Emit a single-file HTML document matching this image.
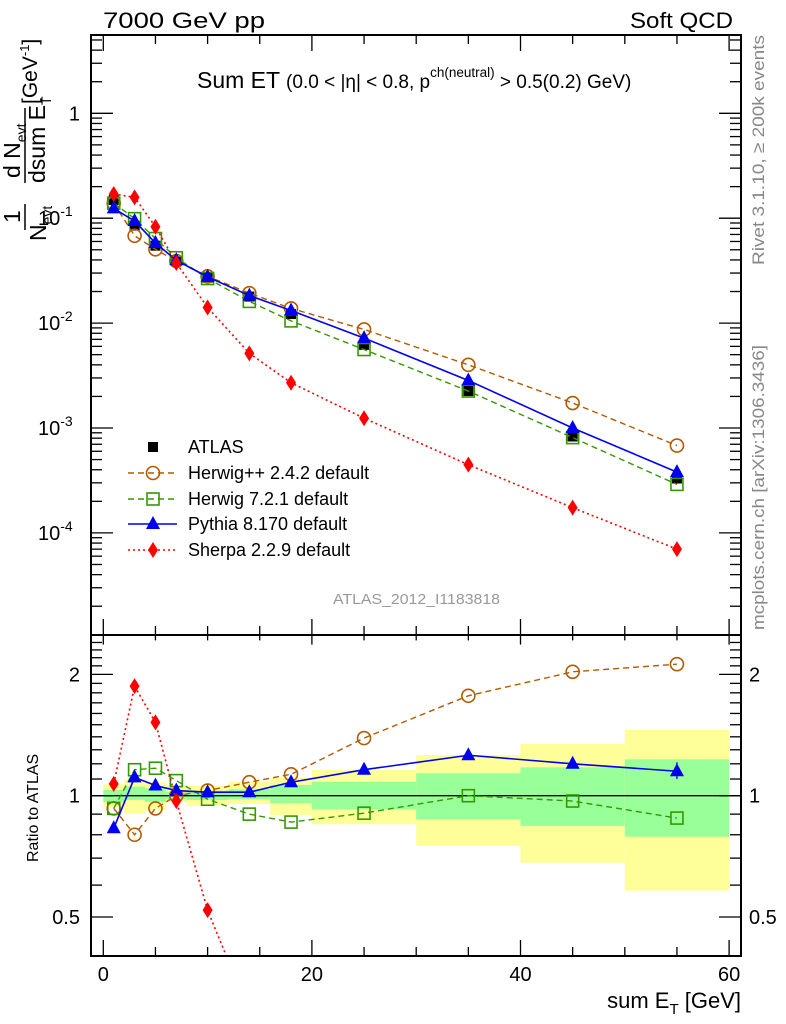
<!DOCTYPE html>
<html><head><meta charset="utf-8"><style>
html,body{margin:0;padding:0;background:#fff;width:786px;height:1024px;overflow:hidden;position:relative}
svg{display:block;position:absolute;left:0;top:0}
text{font-family:"Liberation Sans",sans-serif}
</style></head><body>
<svg id="chart" width="786" height="1024" xmlns="http://www.w3.org/2000/svg">
<g id="bands"></g>
<g id="marks"></g>
<g id="axes"></g>
<text x="103" y="28" font-size="22" textLength="162" lengthAdjust="spacingAndGlyphs">7000 GeV pp</text>
<text x="630" y="28" font-size="22" textLength="103" lengthAdjust="spacingAndGlyphs">Soft QCD</text>
<text x="197" y="88" font-size="23">Sum ET <tspan font-size="19">(0.0 &lt; |η| &lt; 0.8, p</tspan><tspan font-size="13.5" dy="-11">ch(neutral)</tspan><tspan font-size="19" dy="11"> &gt; 0.5(0.2) GeV)</tspan></text>
<text transform="translate(764,265) rotate(-90)" font-size="17" fill="#888" textLength="230" lengthAdjust="spacingAndGlyphs">Rivet 3.1.10, ≥ 200k events</text>
<text transform="translate(764,630) rotate(-90)" font-size="17" fill="#888" textLength="285" lengthAdjust="spacingAndGlyphs">mcplots.cern.ch [arXiv:1306.3436]</text>
<text x="333" y="604" font-size="15" fill="#999" textLength="167" lengthAdjust="spacingAndGlyphs">ATLAS_2012_I1183818</text>
<g>
<text transform="translate(37,104) rotate(-90)" font-size="21">[GeV<tspan font-size="13" dy="-8">-1</tspan><tspan dy="8">]</tspan></text>
<text transform="translate(20,178) rotate(-90)" font-size="23">d N<tspan font-size="14" dy="6">evt</tspan></text>
<line x1="25" y1="108" x2="25" y2="183" stroke="#000" stroke-width="1.5"/>
<text transform="translate(45,183) rotate(-90)" font-size="23">dsum E<tspan font-size="14" dy="6">T</tspan></text>
<text transform="translate(20,223) rotate(-90)" font-size="23">1</text>
<line x1="25" y1="204" x2="25" y2="230" stroke="#000" stroke-width="1.5"/>
<text transform="translate(46,241) rotate(-90)" font-size="23">N<tspan font-size="14" dy="6">evt</tspan></text>
</g>
<text transform="translate(38,862) rotate(-90)" font-size="16">Ratio to ATLAS</text>
<text x="741" y="1008" font-size="22" text-anchor="end">sum E<tspan font-size="15" dy="6">T</tspan><tspan dy="-6"> [GeV]</tspan></text>
<g id="legend"></g>
</svg>
<script>
const xCenters=[1,3,5,7,10,14,18,25,35,45,55];
const binEdges=[0,2,4,6,8,12,16,20,30,40,50,60];
const atlas=[0.149,0.085,0.0547,0.0385,0.0271,0.0179,0.0122,0.0062,0.00225,0.00083,0.00033];
const herwigpp=[0.139,0.068,0.0505,0.039,0.0279,0.0193,0.0138,0.0087,0.0040,0.00173,0.00068];
const herwig7=[0.139,0.099,0.064,0.042,0.0266,0.0161,0.0105,0.0056,0.00225,0.00081,0.00029];
const pythia=[0.124,0.094,0.058,0.0397,0.0276,0.0183,0.0132,0.0072,0.00284,0.001,0.00038];
const sherpa=[0.17,0.158,0.083,0.0374,0.0141,0.00515,0.0027,0.00124,0.000447,0.000174,0.00007];
const rHerwigpp=[0.93,0.80,0.93,1.0,1.03,1.08,1.13,1.39,1.77,2.03,2.12];
const rHerwig7=[0.93,1.16,1.17,1.09,0.98,0.90,0.86,0.905,1.0,0.97,0.88];
const rPythia=[0.83,1.11,1.06,1.03,1.02,1.02,1.08,1.16,1.26,1.20,1.15];
const rSherpa=[1.07,1.87,1.52,0.97,0.52,0.29,0.22,0.2,0.2,0.21,0.21];
const yellowUp=[1.067,1.094,1.081,1.063,1.059,1.083,1.108,1.158,1.262,1.344,1.456];
const yellowDn=[0.937,0.904,0.921,0.966,0.944,0.954,0.896,0.849,0.751,0.682,0.581];
const greenUp=[1.033,1.053,1.043,1.023,1.029,1.037,1.063,1.083,1.137,1.176,1.231];
const greenDn=[0.966,0.976,0.966,0.98,0.976,0.98,0.957,0.925,0.875,0.842,0.791];
const mainTicks=[1,0.1,0.01,0.001,0.0001];
const mainTickLabels=["1","10|-1","10|-2","10|-3","10|-4"];
const ratioTicks=[0.5,1,2];
const ratioTickLabels=["0.5","1","2"];
const xTicks=[0,20,40,60];

const L=91,R=741,T=35,MB=635,RB=956;
const X=v=>103.3+v*10.43;
const YM=v=>113.3-104.9*Math.log10(v);
const YR=v=>795.7-403*Math.log10(v);
const NS="http://www.w3.org/2000/svg";
function mk(tag,attrs,parent){const e=document.createElementNS(NS,tag);for(const k in attrs)e.setAttribute(k,attrs[k]);parent.appendChild(e);return e;}
const bands=document.getElementById('bands'),marks=document.getElementById('marks'),axes=document.getElementById('axes'),legend=document.getElementById('legend');

const defs=mk('defs',{},document.getElementById('chart'));
const cp=mk('clipPath',{id:'rclip'},defs);mk('rect',{x:L,y:MB,width:R-L,height:RB-MB},cp);
const cpm=mk('clipPath',{id:'mclip'},defs);mk('rect',{x:L,y:T,width:R-L,height:MB-T},cpm);

for(let i=0;i<xCenters.length;i++){
  const x0=X(binEdges[i]),x1=X(binEdges[i+1]);
  const y=mk('rect',{x:x0,y:YR(yellowUp[i]),width:x1-x0,height:YR(yellowDn[i])-YR(yellowUp[i]),fill:'#ffff99'},bands);
  
  
  const g=mk('rect',{x:x0,y:YR(greenUp[i]),width:x1-x0,height:YR(greenDn[i])-YR(greenUp[i]),fill:'#99ff99'},bands);
  
  
}
const one=mk('line',{x1:L,x2:R,y1:YR(1),y2:YR(1),stroke:'#000','stroke-width':1.3},bands);



function marker(type,cx,cy,color,parent){
  let e;
  if(type==='sq') e=mk('rect',{x:cx-5,y:cy-5,width:10,height:10,fill:'#000'},parent);
  else if(type==='osq') e=mk('rect',{x:cx-6,y:cy-6,width:12,height:12,fill:'none',stroke:color,'stroke-width':1.6},parent);
  else if(type==='circ') e=mk('circle',{cx:cx,cy:cy,r:6.5,fill:'none',stroke:color,'stroke-width':1.6},parent);
  else if(type==='tri') e=mk('polygon',{points:`${cx},${cy-8} ${cx-7},${cy+5} ${cx+7},${cy+5}`,fill:color},parent);
  else e=mk('polygon',{points:`${cx},${cy-8} ${cx-5},${cy} ${cx},${cy+8} ${cx+5},${cy}`,fill:color},parent);
  return e;
}
const series=[
 {name:'herwigpp',main:herwigpp,ratio:rHerwigpp,color:'#b35900',dash:'6,4',m:'circ',w:1.4,label:'Herwig++ 2.4.2 default'},
 {name:'herwig7',main:herwig7,ratio:rHerwig7,color:'#339900',dash:'6,4',m:'osq',w:1.4,label:'Herwig 7.2.1 default'},
 {name:'pythia',main:pythia,ratio:rPythia,color:'#0000ee',dash:'',m:'tri',w:1.6,label:'Pythia 8.170 default'},
 {name:'sherpa',main:sherpa,ratio:rSherpa,color:'#ff0000',dash:'2,3',m:'dia',w:1.6,label:'Sherpa 2.2.9 default'}
];
const ag=mk('g',{},marks);


atlas.forEach((v,i)=>{const e=marker('sq',X(xCenters[i]),YM(v),'#000',ag);

});
series.forEach(s=>{
  const gm=mk('g',{'clip-path':'url(#mclip)'},marks);
  
  
  mk('polyline',{points:s.main.map((v,i)=>X(xCenters[i])+','+YM(v)).join(' '),fill:'none',stroke:s.color,'stroke-width':s.w,'stroke-dasharray':s.dash},gm);
  s.main.forEach((v,i)=>{const e=marker(s.m,X(xCenters[i]),YM(v),s.color,gm);
  
  });
  const gr=mk('g',{'clip-path':'url(#rclip)'},marks);
  
  
  mk('polyline',{points:s.ratio.map((v,i)=>X(xCenters[i])+','+YR(v)).join(' '),fill:'none',stroke:s.color,'stroke-width':s.w,'stroke-dasharray':s.dash},gr);
  s.ratio.forEach((v,i)=>{const e=marker(s.m,X(xCenters[i]),YR(v),s.color,gr);
  
  });
});
mk('line',{x1:X(55),x2:X(55),y1:YR(1.21),y2:YR(1.10),stroke:'#0000ee','stroke-width':1.3},marks);

mk('rect',{x:L,y:T,width:R-L,height:MB-T,fill:'none',stroke:'#000','stroke-width':2},axes);
mk('rect',{x:L,y:MB,width:R-L,height:RB-MB,fill:'none',stroke:'#000','stroke-width':2},axes);
function ln(x1,y1,x2,y2,w){mk('line',{x1,y1,x2,y2,stroke:'#000','stroke-width':w||1.3},axes);}
for(let v=0;v<=60;v+=5){const major=v%20===0;const len=major?16:9;const x=X(v);
 ln(x,MB,x,MB-len);ln(x,T,x,T+len);ln(x,RB,x,RB-len);ln(x,MB,x,MB+len*0.6);}
xTicks.forEach(v=>{const t=mk('text',{x:X(v),y:981,'font-size':20,'text-anchor':'middle'},axes);t.textContent=v;

});
for(let d=-5;d<=0;d++){for(let m=1;m<10;m++){const v=m*Math.pow(10,d);const y=YM(v);if(y<T||y>MB)continue;const len=m===1?22:11;ln(L,y,L+len,y);ln(R,y,R-len,y);}}
mainTicks.forEach((v,i)=>{const parts=mainTickLabels[i].split('|');const t=mk('text',{x:80,y:YM(v)+7,'font-size':20,'text-anchor':parts[1]?'start':'end'},axes);
 if(parts[1]){t.setAttribute('x',38);t.textContent=parts[0];const s=mk('tspan',{'font-size':14,dy:-9},t);s.textContent=parts[1];}else t.textContent=parts[0];
 
 });
[0.4,0.5,0.6,0.7,0.8,0.9,1,1.1,1.2,1.3,1.4,1.5,1.6,1.7,1.8,1.9,2,2.1,2.2,2.3,2.4,2.5].forEach(v=>{const y=YR(v);if(y<MB||y>RB)return;const len=[0.5,1,2].includes(v)?22:11;ln(L,y,L+len,y);ln(R,y,R-len,y);});
ratioTicks.forEach((v,i)=>{const t=mk('text',{x:80,y:YR(v)+7,'font-size':20,'text-anchor':'end'},axes);t.textContent=ratioTickLabels[i];


const t2=mk('text',{x:749,y:YR(v)+7,'font-size':20},axes);t2.textContent=ratioTickLabels[i];

});
const ly=[447,473,499,524,550];
const lt=mk('text',{x:188,y:ly[0]+6,'font-size':18},legend);lt.textContent='ATLAS';


marker('sq',153,ly[0],'#000',legend);
series.forEach((s,i)=>{const y=ly[i+1];
 mk('line',{x1:128,x2:177,y1:y,y2:y,stroke:s.color,'stroke-width':s.w,'stroke-dasharray':s.dash},legend);
 marker(s.m,153,y,s.color,legend);
 const t=mk('text',{x:188,y:y+6,'font-size':18},legend);t.textContent=s.label;
 
 });
</script>
</body></html>
